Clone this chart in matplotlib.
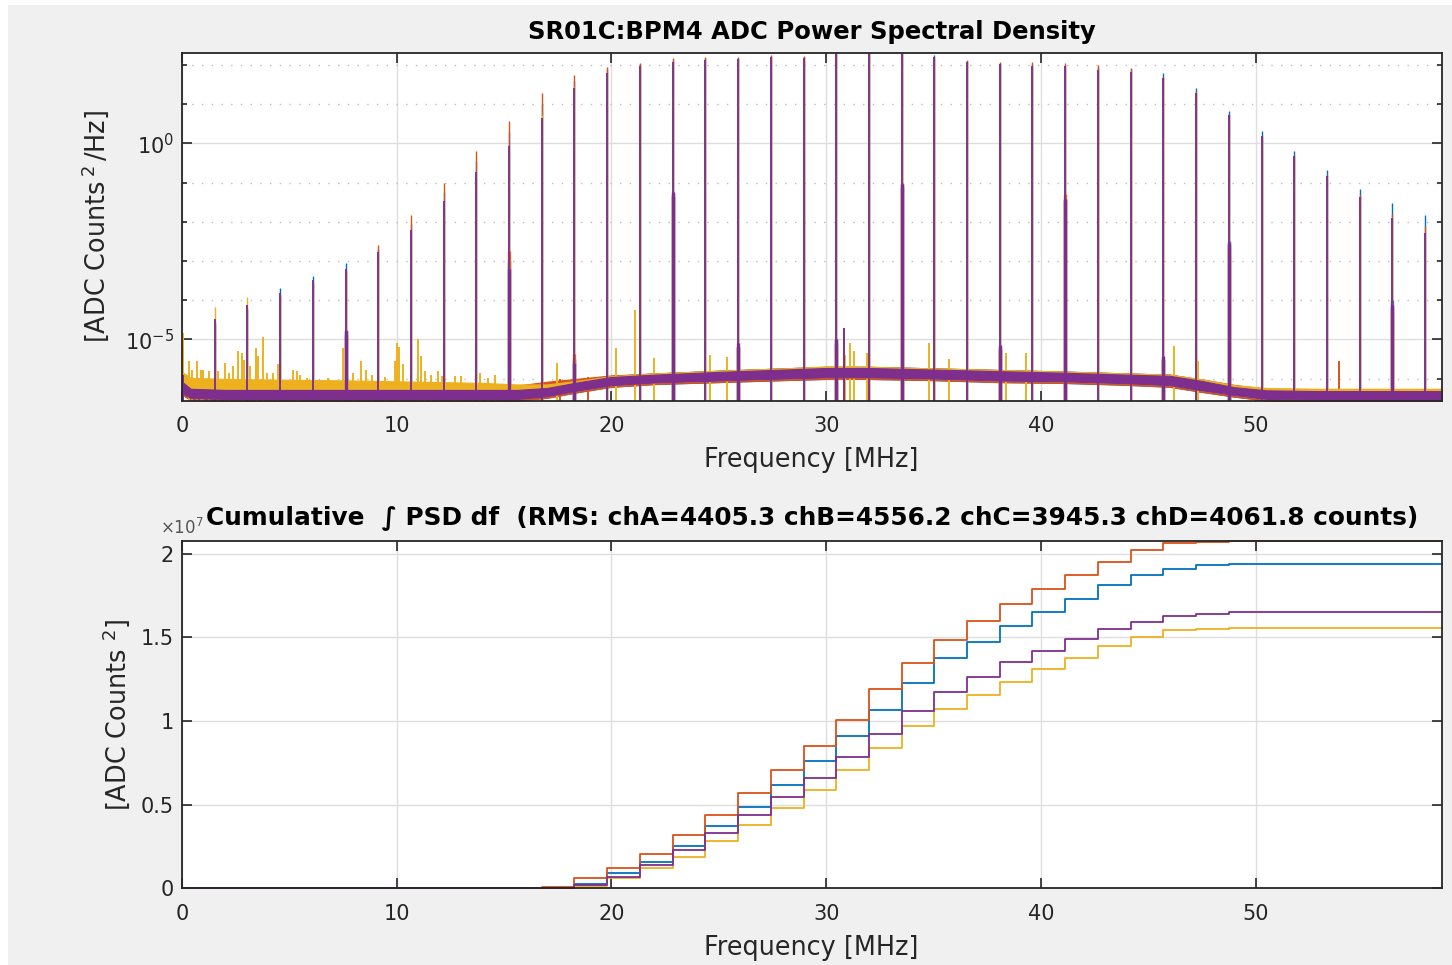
import numpy as np
import matplotlib
matplotlib.use("Agg")
import matplotlib.pyplot as plt
from matplotlib.patches import Rectangle

plt.rcParams['font.family'] = ['DejaVu Sans']
plt.rcParams['mathtext.fontset'] = 'dejavusans'

# ---------------- data ----------------
channels = ["chA", "chB", "chC", "chD"]
colors = ["#0072BD", "#D95319", "#EDB120", "#7E2F8E"]

f_nyquist = 58.66  # MHz

# revolution harmonics (MHz), n = 1..38
harm_freq = [1.52, 3.05, 4.57, 6.09, 7.62, 9.14, 10.67, 12.19, 13.71, 15.24,
             16.76, 18.28, 19.81, 21.33, 22.85, 24.38, 25.90, 27.42, 28.95, 30.47,
             31.99, 33.52, 35.04, 36.57, 38.09, 39.61, 41.14, 42.66, 44.18, 45.71,
             47.23, 48.76, 50.28, 51.80, 53.33, 54.85, 56.37, 57.90]

# peak PSD at each harmonic, log10(counts^2/Hz)
peak_chA = [-4.55, -4.20, -3.69, -3.39, -3.04, -2.70, -2.05, -1.25, -0.45, 0.30,
            1.00, 1.60, 1.90, 2.02, 2.12, 2.17, 2.19, 2.24, 2.20, 2.30,
            2.42, 2.30, 2.26, 2.10, 2.05, 2.04, 2.00, 1.95, 1.89, 1.79,
            1.41, 0.83, 0.32, -0.20, -0.67, -1.15, -1.53, -1.83]
peak_chB = [-4.60, -4.25, -3.90, -3.55, -3.25, -2.58, -1.83, -1.02, -0.20, 0.58,
            1.30, 1.75, 1.96, 2.05, 2.17, 2.21, 2.22, 2.27, 2.24, 2.33,
            2.45, 2.35, 2.22, 2.13, 2.08, 2.09, 2.05, 2.00, 1.92, 1.70,
            1.33, 0.75, 0.20, -0.30, -0.80, -1.30, -1.80, -2.10]
peak_chC = [-4.18, -3.91, -3.85, -3.52, -3.22, -2.80, -2.30, -1.60, -0.85, -0.15,
            0.72, 1.45, 1.80, 1.95, 2.05, 2.10, 2.12, 2.15, 2.10, 2.20,
            2.30, 2.20, 2.12, 2.02, 1.97, 1.92, 1.90, 1.82, 1.76, 1.60,
            1.25, 0.65, 0.10, -0.40, -0.90, -1.40, -1.95, -2.35]
peak_chD = [-4.48, -4.13, -3.81, -3.49, -3.20, -2.77, -2.22, -1.48, -0.74, -0.06,
            0.66, 1.41, 1.81, 1.97, 2.09, 2.14, 2.16, 2.20, 2.17, 2.28,
            2.40, 2.28, 2.20, 2.09, 2.03, 1.98, 1.98, 1.88, 1.83, 1.66,
            1.30, 0.72, 0.18, -0.33, -0.84, -1.36, -1.89, -2.28]

# broadened bases around some harmonics, log10(counts^2/Hz)
skirt_harm = [5, 10, 12, 15, 17, 20, 22, 25, 27, 30, 32, 37]
skirt_chA = [-4.75, -3.00, -5.50, -1.35, -5.20, -4.98, -1.10, -5.25, -1.45, -5.50, -2.49, -4.00]
skirt_chB = [-4.90, -2.75, -5.37, -1.30, -5.20, -5.10, -1.00, -5.20, -1.30, -5.50, -2.60, -4.20]
skirt_chC = [-4.90, -3.30, -5.60, -1.40, -5.20, -5.20, -1.15, -5.30, -1.50, -5.60, -2.70, -4.30]
skirt_chD = [-4.78, -3.21, -5.60, -1.25, -5.08, -5.00, -1.04, -5.15, -1.41, -5.43, -2.55, -4.11]

# noise-floor band (log10 lower / upper envelope) at these frequencies
band_freq = [0, 0.4, 2, 5, 8, 11, 14, 15.6, 17, 18.5, 20, 22, 25, 28, 30, 32, 35,
             38, 41, 44, 46, 47.5, 49, 50.5, 53, 56, 58.66]
floor_lo_chD = [-6.35, -6.50, -6.52, -6.52, -6.52, -6.52, -6.52, -6.52, -6.45, -6.30,
                -6.17, -6.10, -6.05, -6.00, -5.97, -5.97, -6.00, -6.05, -6.07, -6.12,
                -6.17, -6.30, -6.42, -6.52, -6.54, -6.54, -6.54]
floor_hi_chD = [-6.08, -6.26, -6.29, -6.29, -6.29, -6.29, -6.29, -6.29, -6.24, -6.09,
                -5.96, -5.90, -5.83, -5.77, -5.73, -5.73, -5.77, -5.81, -5.85, -5.90,
                -5.93, -6.06, -6.22, -6.30, -6.32, -6.32, -6.32]
floor_lo_chA = [-6.40, -6.55, -6.56, -6.56, -6.56, -6.56, -6.56, -6.56, -6.49, -6.34,
                -6.21, -6.14, -6.09, -6.04, -6.01, -6.01, -6.04, -6.09, -6.11, -6.16,
                -6.21, -6.34, -6.46, -6.56, -6.58, -6.58, -6.58]
floor_hi_chA = [-5.93, -6.22, -6.26, -6.26, -6.26, -6.26, -6.26, -6.26, -6.21, -6.06,
                -5.93, -5.87, -5.80, -5.74, -5.70, -5.70, -5.74, -5.78, -5.82, -5.87,
                -5.90, -6.03, -6.18, -6.26, -6.28, -6.28, -6.28]
floor_lo_chB = [-6.40, -6.55, -6.56, -6.56, -6.56, -6.56, -6.56, -6.56, -6.49, -6.34,
                -6.21, -6.14, -6.09, -6.04, -6.01, -6.01, -6.04, -6.09, -6.11, -6.16,
                -6.21, -6.34, -6.46, -6.56, -6.58, -6.58, -6.58]
floor_hi_chB = [-6.05, -6.24, -6.26, -6.26, -6.26, -6.26, -6.26, -6.18, -6.08, -6.00,
                -5.92, -5.87, -5.80, -5.74, -5.70, -5.70, -5.74, -5.78, -5.82, -5.87,
                -5.90, -6.02, -6.16, -6.26, -6.28, -6.28, -6.28]
floor_lo_chC = [-6.20, -6.30, -6.30, -6.30, -6.30, -6.30, -6.30, -6.35, -6.45, -6.30,
                -6.17, -6.10, -6.05, -6.00, -5.97, -5.97, -6.00, -6.05, -6.07, -6.12,
                -6.17, -6.30, -6.42, -6.52, -6.54, -6.54, -6.54]
floor_hi_chC = [-5.83, -5.98, -6.01, -6.03, -6.05, -6.08, -6.11, -6.15, -6.15, -6.05,
                -5.94, -5.87, -5.80, -5.74, -5.69, -5.70, -5.74, -5.78, -5.82, -5.87,
                -5.90, -6.02, -6.17, -6.24, -6.26, -6.26, -6.26]

# narrow spurs off the harmonics: (MHz, log10(counts^2/Hz))
spurs_chA = [(0.05, -5.20), (30.44, -4.98)]
spurs_chB = [(53.90, -5.56), (18.90, -5.95), (17.60, -6.00)]
spurs_chC = [(0.05, -4.83), (0.32, -5.56), (0.48, -5.77), (0.71, -5.56), (0.87, -5.77),
             (0.99, -5.77), (1.27, -5.81), (1.69, -5.81), (2.00, -5.60), (2.20, -5.86),
             (2.39, -5.69), (2.62, -5.30), (2.78, -5.35), (2.90, -5.52), (3.16, -5.69),
             (3.44, -5.22), (3.55, -5.43), (3.78, -4.95), (3.97, -5.86), (4.25, -5.86),
             (4.45, -5.64), (5.18, -5.77), (5.34, -5.81), (5.49, -5.90), (5.80, -5.98),
             (6.81, -5.98), (7.48, -5.22), (7.97, -5.86), (8.36, -5.56), (8.59, -5.77),
             (8.83, -5.90), (9.45, -5.95), (9.91, -5.56), (10.02, -5.09), (10.10, -5.20),
             (10.30, -5.64), (11.00, -5.00), (11.15, -5.43), (11.30, -5.81), (11.60, -5.90),
             (11.93, -5.81), (12.10, -5.94), (12.70, -5.94), (13.00, -5.94), (13.87, -5.86),
             (14.26, -5.98), (14.57, -5.90),
             (17.48, -5.60), (20.20, -5.22), (21.08, -4.25), (22.00, -5.48), (24.57, -5.40),
             (25.40, -5.45), (30.90, -5.40), (31.12, -5.10), (31.30, -5.30), (31.90, -5.35),
             (34.78, -5.08), (35.70, -5.50), (38.40, -5.36), (39.30, -5.36), (46.20, -5.16),
             (47.30, -5.55)]
spurs_chD = [(0.05, -5.90), (30.82, -4.72)]

# cumulative integral levels after harmonics n = 11..31 (units of 1e7 counts^2)
cum_harm_first = 11
cum_chA = [0.004, 0.026, 0.089, 0.156, 0.251, 0.370, 0.488, 0.617, 0.761, 0.909, 1.067,
           1.229, 1.375, 1.473, 1.567, 1.650, 1.729, 1.812, 1.872, 1.911, 1.931]
cum_chB = [0.010, 0.059, 0.119, 0.208, 0.320, 0.439, 0.567, 0.708, 0.848, 1.006, 1.190,
           1.348, 1.484, 1.596, 1.700, 1.789, 1.872, 1.951, 2.020, 2.061, 2.071]
cum_chC = [0.000, 0.014, 0.059, 0.119, 0.188, 0.281, 0.379, 0.480, 0.587, 0.709, 0.840,
           0.970, 1.072, 1.154, 1.235, 1.308, 1.379, 1.449, 1.502, 1.542, 1.549]
cum_chD = [0.000, 0.020, 0.069, 0.142, 0.231, 0.330, 0.439, 0.547, 0.658, 0.787, 0.921,
           1.057, 1.174, 1.264, 1.350, 1.419, 1.488, 1.547, 1.589, 1.628, 1.640]

# total RMS per channel (counts)
rms = [4405.3, 4556.2, 3945.3, 4061.8]

# ---------------- figure ----------------
W, H = 1452, 965
fig = plt.figure(figsize=(W / 100, H / 100), dpi=100, facecolor="white")
fig.patches.append(Rectangle((8 / W, 0), 1, (H - 5) / H, transform=fig.transFigure,
                             facecolor="#f0f0f0", edgecolor="none", zorder=-10))

ax_left = 182 / W
ax_w = (1441.5 - 182) / W
ax1 = fig.add_axes([ax_left, 1 - 400.5 / H, ax_w, (400.5 - 53) / H])
ax2 = fig.add_axes([ax_left, 1 - 888.3 / H, ax_w, (888.3 - 541) / H])

TXT = "#262626"
GRID = "#dedede"
TICK_FS = 15
LABEL_FS = 18.4


def style_axes(ax):
    ax.set_facecolor("white")
    for s in ax.spines.values():
        s.set_color(TXT)
        s.set_linewidth(1.3)
        s.set_zorder(20)
    ax.tick_params(which="both", direction="in", top=True, right=True,
                   colors=TXT, labelsize=TICK_FS, width=1.2)
    ax.tick_params(which="major", length=7)
    ax.tick_params(which="minor", length=3.5)
    ax.tick_params(axis="x", pad=11)
    ax.tick_params(axis="y", pad=6)
    ax.set_axisbelow(True)


# ---------------- PSD panel ----------------
style_axes(ax1)
ax1.set_yscale("log")
ylo, yhi = 10 ** -6.56, 10 ** 2.31
ax1.set_xlim(0, f_nyquist)
ax1.set_ylim(ylo, yhi)

psd_sets = [
    (peak_chA, skirt_chA, floor_lo_chA, floor_hi_chA, spurs_chA),
    (peak_chB, skirt_chB, floor_lo_chB, floor_hi_chB, spurs_chB),
    (peak_chC, skirt_chC, floor_lo_chC, floor_hi_chC, spurs_chC),
    (peak_chD, skirt_chD, floor_lo_chD, floor_hi_chD, spurs_chD),
]
peak_lw = [1.0, 1.0, 1.0, 1.35]
hf = np.array(harm_freq)
bf = np.array(band_freq)
for k, (pk, sk, flo, fhi, sp) in enumerate(psd_sets):
    c = colors[k]
    z = 2 + k
    ax1.fill_between(bf, 10 ** np.array(flo), 10 ** np.array(fhi),
                     color=c, lw=0.8, edgecolor=c, zorder=z)
    if sp:
        sf = np.array([s[0] for s in sp])
        sv = 10 ** np.array([s[1] for s in sp])
        ax1.vlines(sf, ylo, sv, color=c, lw=1.4, zorder=z)
    skf = hf[np.array(skirt_harm) - 1]
    ax1.vlines(skf, ylo, 10 ** np.array(sk), color=c, lw=2.4, zorder=z)
    ax1.vlines(hf, ylo, 10 ** np.array(pk), color=c, lw=peak_lw[k], zorder=z)

ax1.set_xticks([0, 10, 20, 30, 40, 50])
ax1.set_yticks([1e-5, 1e0])
ax1.set_yticks([10.0 ** e for e in range(-6, 3) if e not in (-5, 0)], minor=True)
ax1.yaxis.set_minor_formatter(matplotlib.ticker.NullFormatter())
ax1.grid(True, which="major", color=GRID, lw=1.0, ls="-")
ax1.grid(True, which="minor", axis="y", color="#bdbdbd", lw=1.0, ls=(0, (1, 6)))
ax1.set_xlabel("Frequency [MHz]", fontsize=LABEL_FS, color=TXT, labelpad=8)
ax1.set_ylabel("[ADC Counts$\\,^2\\,$/Hz]", fontsize=LABEL_FS, color=TXT, labelpad=10)
ax1.set_title("SR01C:BPM4 ADC Power Spectral Density", fontsize=17.5,
              fontweight="bold", color="black", pad=10)

# ---------------- cumulative panel ----------------
style_axes(ax2)
cum_sets = [cum_chA, cum_chB, cum_chC, cum_chD]
finals = [r ** 2 / 1e7 for r in rms]
n_levels = len(cum_chA) + 1
step_f = [0.0] + harm_freq[cum_harm_first - 1:cum_harm_first - 1 + n_levels] + [f_nyquist]
for k, lv in enumerate(cum_sets):
    levels = [0.0] + list(lv) + [finals[k], finals[k]]
    ax2.plot(step_f, levels, drawstyle="steps-post", color=colors[k], lw=1.3,
             zorder=3 + k, clip_on=False)

ax2.set_xlim(0, f_nyquist)
ax2.set_ylim(0, max(finals))
ax2.set_xticks([0, 10, 20, 30, 40, 50])
ax2.set_yticks([0, 0.5, 1, 1.5, 2])
ax2.set_yticklabels(["0", "0.5", "1", "1.5", "2"])
ax2.grid(True, which="major", color=GRID, lw=1.0, ls="-")
ax2.set_xlabel("Frequency [MHz]", fontsize=LABEL_FS, color=TXT, labelpad=8)
ax2.set_ylabel("[ADC Counts $^2$]", fontsize=LABEL_FS, color=TXT, labelpad=6)
ax2.text((204 - 182) / (1441.5 - 182), 1.008, r"$\times$10$^7$", transform=ax2.transAxes,
         ha="right", va="bottom", fontsize=12, color="#555555", zorder=1)
rms_txt = " ".join(f"{ch}={v:.1f}" for ch, v in zip(channels, rms))
ax2.set_title("Cumulative  \u222b PSD df  (RMS: " + rms_txt + " counts)",
              fontsize=17.8, fontweight="bold", color="black", pad=12)

fig.savefig("out.png", dpi=100, facecolor=fig.get_facecolor())
